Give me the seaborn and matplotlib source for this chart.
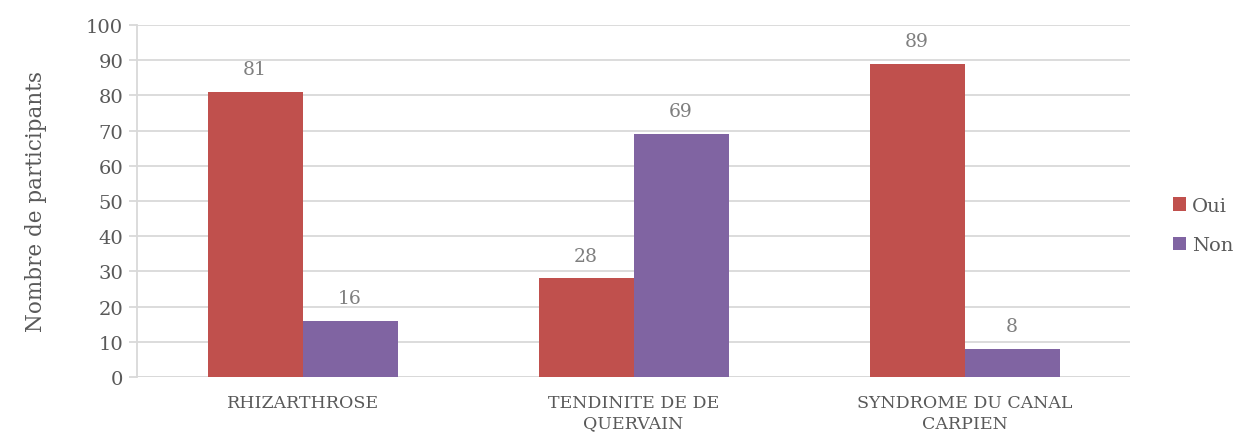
import numpy as np
import pandas as pd
import seaborn as sns
import matplotlib.pyplot as plt

categories = ["RHIZARTHROSE", "TENDINITE DE DE\nQUERVAIN", "SYNDROME DU CANAL\nCARPIEN"]
oui = [81, 28, 89]
non = [16, 69, 8]
series = ["Oui", "Non"]
colors = ["#C0504D", "#8064A2"]

df = pd.DataFrame({
    "cat": categories * 2,
    "rep": ["Oui"] * 3 + ["Non"] * 3,
    "n": oui + non,
})

sns.set_style("white")
plt.rcParams['font.family'] = ['DejaVu Serif']
txt = "#595959"

fig = plt.figure(figsize=(12.35, 4.39), dpi=100)
ax = fig.add_axes([0.111, 0.139, 0.804, 0.802])
sns.barplot(data=df, x="cat", y="n", hue="rep", hue_order=series,
            palette=colors, width=0.574, saturation=1, linewidth=0,
            ax=ax, zorder=2)

for cont in ax.containers:
    ax.bar_label(cont, padding=10, color="#7f7f7f", fontsize=13.5)

ax.set_ylim(0, 100)
ax.set_yticks(range(0, 101, 10))
ax.set_xlim(-0.5, 2.5)
ax.grid(axis="y", color="#d9d9d9", lw=1.3, zorder=0)
for s in ["top", "right", "bottom"]:
    ax.spines[s].set_visible(False)
ax.spines["left"].set_color("#d9d9d9")
ax.spines["left"].set_linewidth(1.3)
ax.axhline(0, color="#d9d9d9", lw=1.3, zorder=1)
ax.tick_params(axis="y", left=True, length=6, color="#d9d9d9", width=1.3,
               labelsize=14, labelcolor=txt, pad=4)
ax.tick_params(axis="x", bottom=False, labelsize=12.5, labelcolor=txt, pad=9)
for lab in ax.get_xticklabels():
    lab.set_linespacing(1.25)
ax.set_xlabel("")
ax.set_ylabel("Nombre de participants", fontsize=15.5, color=txt, labelpad=28)

leg = ax.legend(loc="center left", bbox_to_anchor=(1.035, 0.43), frameon=False,
                borderaxespad=0, fontsize=14, labelcolor=txt,
                handlelength=0.7, handleheight=0.7,
                handletextpad=0.3, labelspacing=1.1)

fig.savefig("out.png", dpi=100)
